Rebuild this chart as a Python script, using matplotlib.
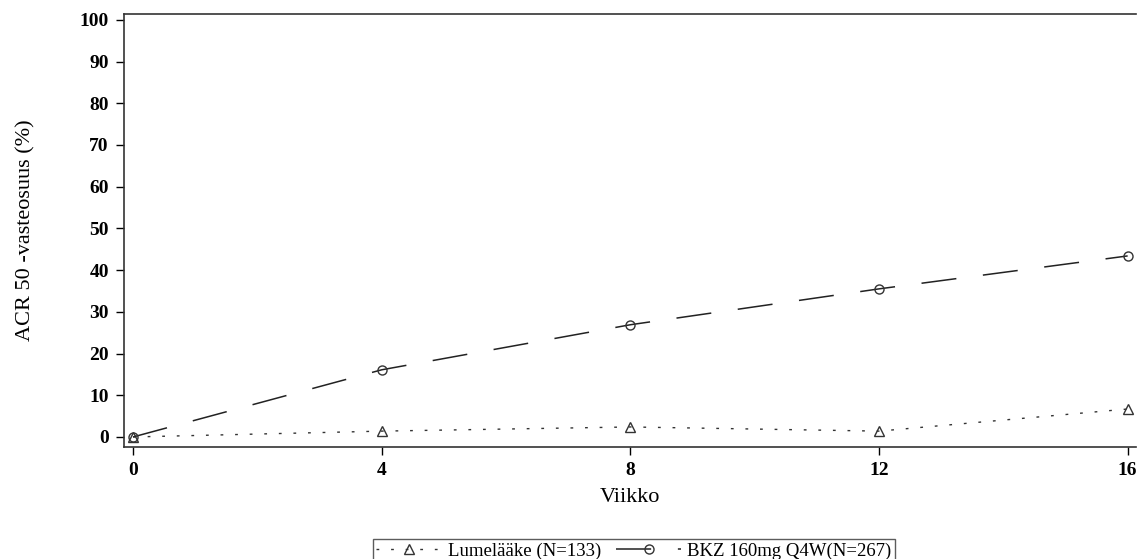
import matplotlib
matplotlib.use('Agg')
import matplotlib.pyplot as plt

# Tiedot
viikot = [0, 4, 8, 12, 16]
bkz = [0, 16.1, 26.9, 35.5, 43.4]
lumelaake = [0, 1.4, 2.4, 1.4, 6.7]
y_ticks = [0, 10, 20, 30, 40, 50, 60, 70, 80, 90, 100]

plt.rcParams['font.family'] = ['Liberation Serif', 'DejaVu Serif']

fig = plt.figure(figsize=(11.38, 5.59), dpi=100)
ax = fig.add_axes([0.109, 0.2004, 0.889, 0.7746])

ax.plot(viikot, lumelaake, color='#333333', linestyle=(0, (2, 8.5)), linewidth=1.0,
        marker='^', markersize=6.5, markerfacecolor='none', markeredgecolor='#333333',
        label='Lumelääke (N=133)')
ax.plot(viikot, bkz, color='#222222', linestyle=(0, (23, 17.5)), linewidth=1.1,
        marker='o', markersize=6.5, markerfacecolor='none', markeredgecolor='#333333',
        label='BKZ 160mg Q4W(N=267)')

ax.set_xlim(-0.145, 16.13)
ax.set_ylim(-2.4, 101.4)
ax.set_xticks(viikot)
ax.set_yticks(y_ticks)
ax.tick_params(direction='out', length=6, width=1, labelsize=14, pad=5)
for lbl in ax.get_xticklabels() + ax.get_yticklabels():
    lbl.set_fontweight('bold')
ax.spines['right'].set_visible(False)
for s in ['left', 'top', 'bottom']:
    ax.spines[s].set_linewidth(1.2)
    ax.spines[s].set_color('#333333')

ax.set_xlabel('Viikko', fontsize=16, labelpad=6)
ax.set_ylabel('ACR 50 -vasteosuus (%)', fontsize=16, labelpad=32)

leg = fig.legend(loc='lower center', bbox_to_anchor=(0.557, -0.025), ncol=2,
                 fontsize=13.5, frameon=True, fancybox=False, edgecolor='#333333',
                 handlelength=3.5, columnspacing=0.8, borderpad=0.2, handletextpad=0.3)
leg.get_frame().set_linewidth(1.0)

fig.savefig('out.png', dpi=100)
